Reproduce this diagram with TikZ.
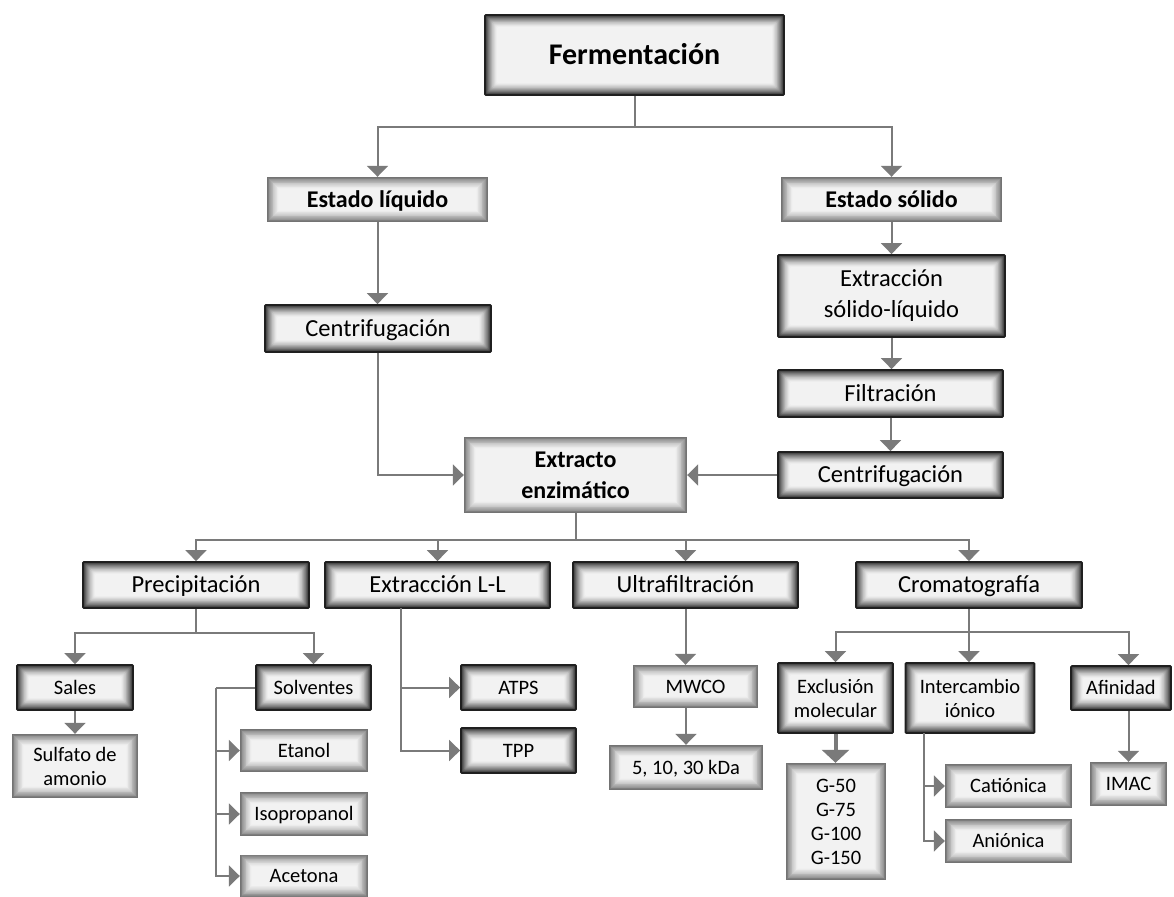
\documentclass[tikz,border=0pt]{standalone}
\usepackage{fontspec}
\setmainfont{Carlito}
\usetikzlibrary{arrows.meta}
\definecolor{lc}{HTML}{7A7A7A}
\tikzset{
  glow/.style={path picture={%
    \foreach \i in {0,...,15}{%
      \pgfmathtruncatemacro\c{95-(95-#1)*(1-\i/15)*sqrt(1-\i/15)}%
      \fill[white!\c!black] ([xshift=\i*0.8pt,yshift=-\i*0.8pt]path picture bounding box.north west) rectangle ([xshift=-\i*0.8pt,yshift=\i*0.8pt]path picture bounding box.south east);
    }}},
  base/.style={rectangle, inner sep=0pt, align=center, text=black},
  dark/.style={base, draw=black!88, line width=1.8pt, rounded corners=1pt, glow={20}},
  light/.style={base, glow={45}},
  big/.style={font=\bfseries\fontsize{30}{36}\selectfont, text height=21pt, text depth=1.8pt},
  bmed/.style={font=\bfseries\fontsize{24}{31}\selectfont},
  bmed1/.style={bmed, text height=16.8pt, text depth=1.4pt},
  med/.style={font=\fontsize{24.5}{31}\selectfont},
  med1/.style={med, text height=17.1pt, text depth=1.5pt},
  sml/.style={font=\fontsize{20.5}{24}\selectfont},
  sml1/.style={sml, text height=14.3pt, text depth=1.2pt},
  ln/.style={draw=lc, line width=2pt},
  arr/.style={ln, -{Triangle[width=21pt,length=11pt]}},
}
\begin{document}
\begin{tikzpicture}[x=1pt,y=-1pt]
\useasboundingbox (0,0) rectangle (1174,896);
% nodes
\node[dark, big, minimum width=299pt, minimum height=80pt] (ferm) at (634.5,55) {Fermentación};
\node[light, bmed1, minimum width=221pt, minimum height=45pt] (liq) at (377.5,199.5) {Estado líquido};
\node[light, bmed1, minimum width=221pt, minimum height=45pt] (sol) at (891.5,199.5) {Estado sólido};
\node[dark, med1, minimum width=226pt, minimum height=47pt] (cen1) at (378,328.5) {Centrifugación};
\node[dark, med, minimum width=227pt, minimum height=82pt] (exsl) at (891.5,296) {Extracción\\sólido-líquido};
\node[dark, med1, minimum width=225pt, minimum height=47pt] (filt) at (890.5,393.5) {Filtración};
\node[dark, med1, minimum width=225pt, minimum height=46pt] (cen2) at (890.5,475) {Centrifugación};
\node[light, bmed, minimum width=223pt, minimum height=76pt] (ext) at (575.5,475) {Extracto\\enzimático};
\node[dark, med1, minimum width=226pt, minimum height=46pt] (prec) at (196,585) {Precipitación};
\node[dark, med1, minimum width=225pt, minimum height=46pt] (ell) at (437.5,585) {Extracción L-L};
\node[dark, med1, minimum width=225pt, minimum height=46pt] (ultra) at (685.5,585) {Ultrafiltración};
\node[dark, med1, minimum width=226pt, minimum height=46pt] (crom) at (969,585) {Cromatografía};
\node[dark, sml1, minimum width=116pt, minimum height=45pt] (sales) at (75,687.5) {Sales};
\node[dark, sml1, minimum width=115pt, minimum height=45pt] (solv) at (313.5,687.5) {Solventes};
\node[light, sml, minimum width=126pt, minimum height=64pt] (sulf) at (75,766) {Sulfato de\\amonio};
\node[light, sml1, minimum width=128pt, minimum height=43pt] (etanol) at (304,750.5) {Etanol};
\node[light, sml1, minimum width=128pt, minimum height=44pt] (iso) at (304,814) {Isopropanol};
\node[light, sml1, minimum width=128pt, minimum height=43pt] (acet) at (304,876) {Acetona};
\node[dark, sml1, minimum width=115pt, minimum height=45pt] (atps) at (518.5,687.5) {ATPS};
\node[dark, sml1, minimum width=115pt, minimum height=45pt] (tpp) at (518.5,750.5) {TPP};
\node[light, sml1, minimum width=125pt, minimum height=43pt] (mwco) at (695.5,686.5) {MWCO};
\node[light, sml1, minimum width=154pt, minimum height=45pt] (kda) at (686,767.5) {5, 10, 30 kDa};
\node[dark, sml, minimum width=115pt, minimum height=70pt] (exc) at (835.5,698) {Exclusión\\molecular};
\node[dark, sml, minimum width=129pt, minimum height=70pt] (inter) at (970,698) {Intercambio\\iónico};
\node[dark, sml1, minimum width=100pt, minimum height=44pt] (afin) at (1121,688) {Afinidad};
\node[light, sml, minimum width=100pt, minimum height=117pt] (gbox) at (836,821.5) {G-50\\G-75\\G-100\\G-150};
\node[light, sml1, minimum width=127pt, minimum height=44pt] (cat) at (1008.5,786) {Catiónica};
\node[light, sml1, minimum width=127pt, minimum height=44pt] (ani) at (1008.5,841) {Aniónica};
\node[light, sml1, minimum width=77pt, minimum height=44pt] (imac) at (1128.5,784) {IMAC};
% connectors
\coordinate (j1) at (634.5,127);
\draw[ln] (ferm.south) -- (j1);
\draw[arr] (j1) -| (liq.north);
\draw[arr] (j1) -| (sol.north);
\draw[arr] (liq.south) -- (liq.south |- cen1.north);
\draw[arr] (sol.south) -- (sol.south |- exsl.north);
\draw[arr] (exsl.south) -- (exsl.south |- filt.north);
\draw[arr] (filt.south) -- (filt.south |- cen2.north);
\draw[arr] (cen1.south) |- (ext.west);
\draw[arr] (cen2.west) -- (ext.east);
\coordinate (j2) at (575.5,540);
\draw[ln] (ext.south) -- (j2);
\draw[arr] (j2) -| (prec.north);
\draw[arr] (j2) -| (ell.north);
\draw[arr] (j2) -| (ultra.north);
\draw[arr] (j2) -| (crom.north);
\coordinate (j3) at (196,633);
\draw[ln] (prec.south) -- (j3);
\draw[arr] (j3) -| (sales.north);
\draw[arr] (j3) -| (solv.north);
\draw[arr] (sales.south) -- (sales.south |- sulf.north);
\coordinate (sv) at (216,687.5);
\draw[ln] (solv.west) -- (sv);
\draw[arr] (sv) |- (acet.west);
\draw[arr] (sv |- etanol.west) -- (etanol.west);
\draw[arr] (sv |- iso.west) -- (iso.west);
\coordinate (lls) at (401,608);
\draw[arr] (lls) |- (tpp.west);
\draw[arr] (lls |- atps.west) -- (atps.west);
\draw[arr] (ultra.south) -- (ultra.south |- mwco.north);
\draw[arr] (kda.north |- mwco.south) -- (kda.north);
\coordinate (j4) at (969,632);
\draw[ln] (crom.south) -- (j4);
\draw[arr] (j4) -| (exc.north);
\draw[arr] (j4) -- (j4 |- inter.north);
\draw[arr] (j4) -| (imac.north |- afin.north);
\draw[ln, line width=4pt, -{Triangle[width=27pt,length=13pt]}] (exc.south) -- (exc.south |- gbox.north);
\coordinate (is) at (924,733);
\draw[arr] (is) |- (ani.west);
\draw[arr] (is |- cat.west) -- (cat.west);
\draw[arr] (imac.north |- afin.south) -- (imac.north);
\end{tikzpicture}
\end{document}
